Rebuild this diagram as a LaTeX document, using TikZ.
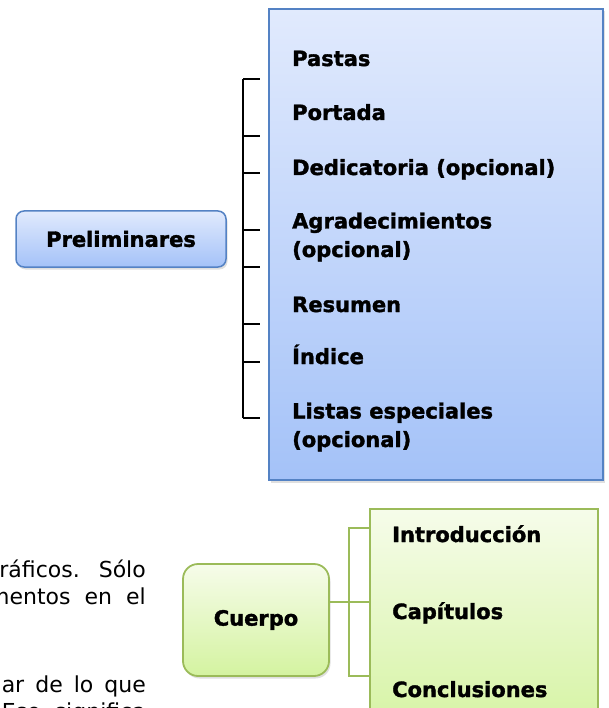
\documentclass[tikz,border=0pt]{standalone}
\usepackage{fontspec}
\setmainfont{DejaVu Sans}
\newfontfamily\heavyfont[FakeBold=1.6]{DejaVu Sans Bold}
\usepackage{tikz}
\usetikzlibrary{positioning,shadows}

\definecolor{blueedge}{RGB}{84,130,196}
\definecolor{bluetop}{RGB}{225,234,253}
\definecolor{bluebot}{RGB}{164,194,248}
\definecolor{greenedge}{RGB}{155,187,89}
\definecolor{greentop}{RGB}{246,252,234}
\definecolor{greenbot}{RGB}{212,243,160}

\newcommand{\itemfont}{\fontsize{21}{28.5}\selectfont\heavyfont}
\newcommand{\fragfont}{\fontsize{22}{27}\selectfont}

\begin{document}
\begin{tikzpicture}[
    x=1pt, y=-1pt,
    head box/.style={rectangle, rounded corners=8pt, draw=blueedge, line width=1.5pt, top color=bluetop, bottom color=bluebot, font=\itemfont, drop shadow={opacity=0.25, shadow xshift=1.5pt, shadow yshift=-2.5pt}},
    list box/.style={rectangle, draw=blueedge, line width=2pt, top color=bluetop, bottom color=bluebot, drop shadow={opacity=0.25, shadow xshift=2pt, shadow yshift=-2.5pt}},
    body box/.style={rectangle, rounded corners=15pt, draw=greenedge, line width=1.8pt, top color=greentop, bottom color=greenbot, font=\itemfont, drop shadow={opacity=0.25, shadow xshift=1.5pt, shadow yshift=-2.5pt}},
    green list/.style={rectangle, draw=greenedge, line width=1.8pt, top color=greentop, bottom color=greenbot},
    item/.style={anchor=base west, inner sep=0pt, font=\itemfont, align=left},
    frag/.style={anchor=base east, inner sep=0pt, font=\fragfont},
    bracket/.style={draw=black, line width=1.5pt},
    green line/.style={draw=greenedge, line width=1.8pt}
]
    \useasboundingbox (0,0) rectangle (609,708);

    % Preliminares block and its list
    \node[head box, minimum width=210pt, minimum height=56pt] (prelim) at (121,239) {Preliminares};
    \node[list box, minimum width=334pt, minimum height=471pt] (prelist) at (436,244.5) {};

    % (two-line items sit on the baseline of their last line)
    \node[item] (pastas) at (292,66) {Pastas};
    \node[item] (portada) at (292,120) {Portada};
    \node[item] (dedic) at (292,175) {Dedicatoria (opcional)};
    \node[item] (agrad) at (292,257) {Agradecimientos\\(opcional)};
    \node[item] (resumen) at (292,312) {Resumen};
    \node[item] (indice) at (292,364) {Índice};
    \node[item] (listas) at (292,447) {Listas especiales\\(opcional)};

    % Bracket (black)
    \coordinate (brtop) at (243,79);
    \coordinate (brbot) at (243,418);
    \draw[bracket] (brtop) -- (brbot);
    \foreach \y in {79,136,173,230,267,324,362,418}
        \draw[bracket] (243,\y) -- ++(17,0);

    % Cuerpo block and its list
    \node[body box, minimum width=146pt, minimum height=112pt] (cuerpo) at (256,620) {Cuerpo};
    \node[green list, minimum width=228pt, minimum height=231pt] (bodylist) at (484,624.5) {};

    \node[item] (intro) at (392,542) {Introducción};
    \node[item] (capit) at (392,619) {Capítulos};
    \node[item] (concl) at (392,697) {Conclusiones};

    % Green connector
    \draw[green line] ([yshift=18pt]cuerpo.east) -- ([yshift=18pt]cuerpo.east -| bodylist.west);
    \coordinate (gtop) at (bodylist.west |- 0,528);
    \coordinate (gbot) at (bodylist.west |- 0,676);
    \draw[green line] (gtop) -- ++(-20,0) |- (gbot);

    % Text of the page behind (cut by the left and bottom edges)
    \node[frag] (frag1) at (146,577) {ráficos.\hskip 19pt Sólo};
    \node[frag] (frag2) at (146,604) {mentos\hskip 14pt en\hskip 14pt el};
    \node[frag] (frag3) at (146,692) {ar\hskip 11pt de\hskip 11pt lo\hskip 11pt que};
    \node[frag] (frag4) at (146,719) {Eso\hskip 14pt significa};
\end{tikzpicture}
\end{document}
